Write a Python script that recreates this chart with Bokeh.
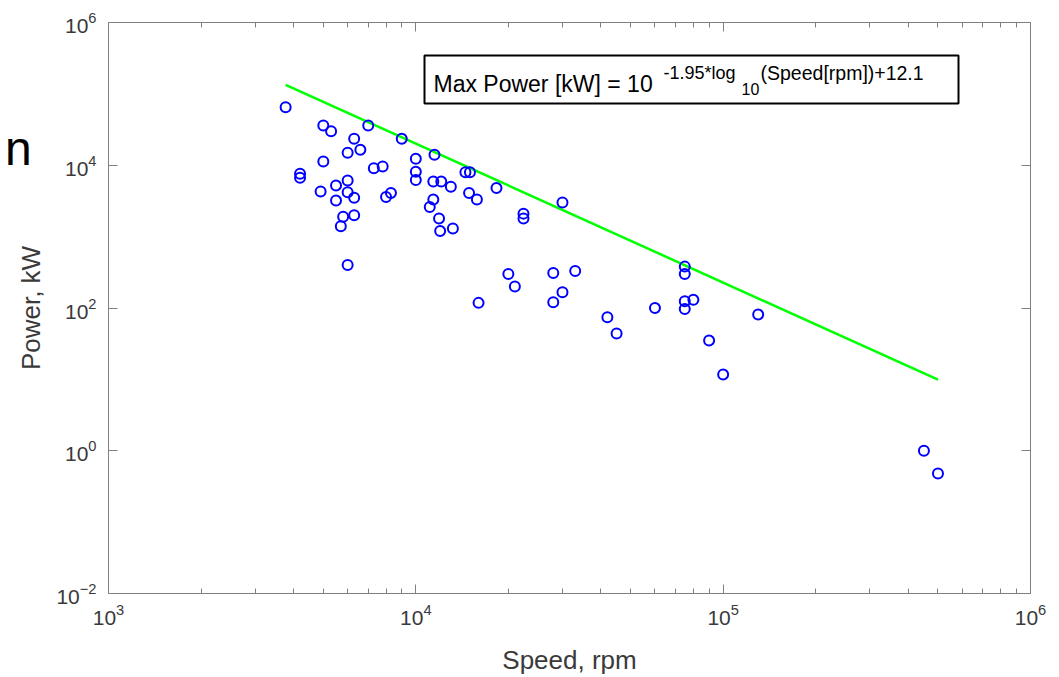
from bokeh.plotting import figure
from bokeh.models import (Range1d, FixedTicker, LogAxis, CustomJSTickFormatter,
                          Label, BoxAnnotation, ColumnDataSource, Div)
from bokeh.layouts import row
from bokeh.embed import file_html
from bokeh.resources import INLINE

# ---- data ----
speed_rpm = [3770, 5000, 5300, 7000, 9000, 6300, 6600, 6000, 5000, 10000,
             10000, 10000, 4200, 4200, 7300, 7800, 6000, 5500, 4900, 6000,
             6300, 5500, 8000, 8300, 6300, 5800, 5700, 6000, 11500, 11400,
             12100, 13000, 14500, 15000, 14900, 15800, 18300, 11400, 11100, 11900,
             12000, 13200, 22400, 22400, 30000, 20000, 21000, 28000, 33000, 30000,
             28000, 16000, 42000, 45000, 60000, 75000, 75000, 75000, 80000, 75000,
             90000, 130000, 100000, 450000, 500000]
power_kw = [65000, 36000, 30000, 36000, 23500, 23500, 16500, 15000, 11300, 12300,
            8100, 6200, 7600, 6700, 9100, 9600, 6100, 5200, 4300, 4200,
            3500, 3200, 3600, 4100, 2000, 1900, 1400, 400, 14000, 5900,
            5900, 5000, 8000, 8000, 4100, 3300, 4800, 3300, 2600, 1800,
            1200, 1300, 2100, 1800, 3000, 300, 200, 310, 330, 166,
            120, 118, 74, 44, 100, 380, 300, 124, 130, 97,
            35, 81, 11.7, 1.0, 0.48]
fit_speed = [3770, 500000]
fit_power = [134000, 9.9]

x_major = [1e3, 1e4, 1e5, 1e6]
y_major = [1e-2, 1e0, 1e2, 1e4, 1e6]
x_minor = [k * 10 ** d for d in (3, 4, 5) for k in range(2, 10)]

x_label = "Speed, rpm"
y_label = "Power, kW"
eq_main = "Max Power [kW] = 10"
eq_sup1 = "-1.95*log"
eq_sub = "10"
eq_sup2 = "(Speed[rpm])+12.1"
edge_text = "n"

FONT = "Liberation Sans"
AX = "#808080"
TXT = "#3a3a3a"

p = figure(width=1059, height=677, x_axis_type="log", y_axis_type="log",
           x_range=Range1d(1e3, 1e6), y_range=Range1d(1e-2, 1e6),
           output_backend="svg", toolbar_location=None,
           min_border_left=108, min_border_right=29,
           min_border_top=22, min_border_bottom=84)
p.background_fill_color = "white"
p.border_fill_color = "white"
p.outline_line_color = AX
p.xgrid.visible = False
p.ygrid.visible = False


def style(ax, minor=True):
    ax.axis_line_color = AX
    ax.major_tick_line_color = AX
    ax.minor_tick_line_color = AX if minor else None
    ax.major_tick_in = 9
    ax.major_tick_out = 0
    ax.minor_tick_in = 5
    ax.minor_tick_out = 0
    ax.major_label_text_font = FONT
    ax.major_label_text_font_size = "21px"
    ax.major_label_text_color = TXT
    ax.axis_label_text_font = FONT
    ax.axis_label_text_font_size = "26px"
    ax.axis_label_text_font_style = "normal"
    ax.axis_label_text_color = TXT


xt = FixedTicker(ticks=x_major, minor_ticks=x_minor)
yt = FixedTicker(ticks=y_major, minor_ticks=[])

xa = p.xaxis[0]
xa.ticker = xt
style(xa)
xa.axis_label = x_label
xa.major_label_standoff = 10
xa.axis_label_standoff = 17

ya = p.yaxis[0]
ya.ticker = yt
style(ya, minor=False)
ya.axis_label = y_label
ya.major_label_standoff = 12
ya.axis_label_standoff = 7

top = LogAxis(ticker=xt, formatter=CustomJSTickFormatter(code="return ''"))
style(top)
top.major_label_standoff = 0
right = LogAxis(ticker=yt, formatter=CustomJSTickFormatter(code="return ''"))
style(right, minor=False)
right.major_label_standoff = 0
p.add_layout(top, "above")
p.add_layout(right, "right")

src = ColumnDataSource(dict(speed=speed_rpm, power=power_kw))
p.line(fit_speed, fit_power, line_color="#00ff00", line_width=2.5)
p.scatter("speed", "power", source=src, marker="circle", size=10,
          fill_color=None, line_color="#0000ff", line_width=2)

# equation box
p.add_layout(BoxAnnotation(left=316, right=850, bottom=490, top=538,
                           left_units="screen", right_units="screen",
                           top_units="screen", bottom_units="screen",
                           fill_color="white", fill_alpha=1.0,
                           line_color="black", line_alpha=1.0, line_width=2))
p.add_layout(Label(x=325, y=510, x_units="screen", y_units="screen",
                   text=eq_main, text_font=FONT, text_font_size="23px",
                   text_color="black", text_baseline="middle"))
p.add_layout(Label(x=555, y=521, x_units="screen", y_units="screen",
                   text=eq_sup1, text_font=FONT, text_font_size="18px",
                   text_color="black", text_baseline="middle"))
p.add_layout(Label(x=633, y=505, x_units="screen", y_units="screen",
                   text=eq_sub, text_font=FONT, text_font_size="16px",
                   text_color="black", text_baseline="middle"))
p.add_layout(Label(x=652, y=521, x_units="screen", y_units="screen",
                   text=eq_sup2, text_font=FONT, text_font_size="19.5px",
                   text_color="black", text_baseline="middle"))

# slide text peeking in at the left edge (outside the plot frame)
edge = Div(text=edge_text, styles={
    "position": "absolute", "left": "0px", "top": "120px",
    "font-family": "Liberation Sans", "font-size": "48px",
    "line-height": "48px", "color": "black", "z-index": "10"})

layout = row(p, edge)
open("out.html", "w").write(file_html(layout, INLINE))
